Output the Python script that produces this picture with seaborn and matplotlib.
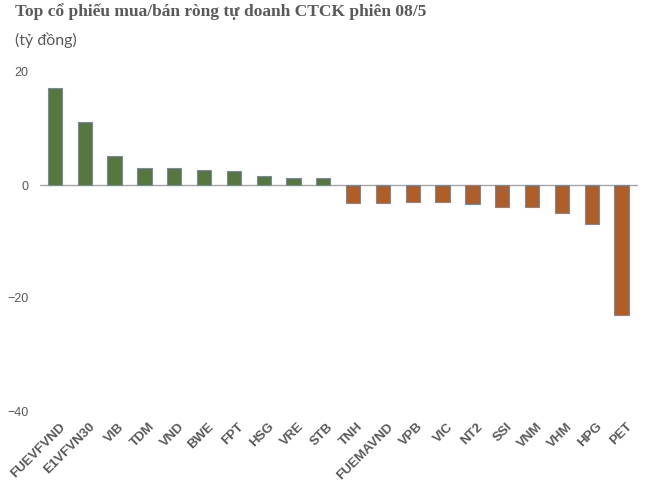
import matplotlib
matplotlib.use("Agg")
import matplotlib.pyplot as plt
import matplotlib.transforms as mtransforms
import seaborn as sns
import pandas as pd

# Top co phieu mua/ban rong tu doanh CTCK phien 08/5 (ty dong)
ma_ck = ["FUEVFVND", "E1VFVN30", "VIB", "TDM", "VND", "BWE", "FPT", "HSG", "VRE", "STB",
         "TNH", "FUEMAVND", "VPB", "VIC", "NT2", "SSI", "VNM", "VHM", "HPG", "PET"]
gia_tri = [17.2, 11.2, 5.1, 3.0, 3.0, 2.7, 2.5, 1.6, 1.2, 1.2,
           -3.1, -3.1, -3.0, -3.0, -3.4, -3.9, -3.9, -5.0, -6.9, -23.0]

df = pd.DataFrame({"ma": ma_ck, "gt": gia_tri})
df["loai"] = ["mua" if v > 0 else "ban" for v in df["gt"]]

sns.set_style("white")
fig = plt.figure(figsize=(6.45, 4.87), dpi=100)
ax = fig.add_axes([40 / 645, 1 - 411 / 487, 598 / 645, 339 / 487])

sns.barplot(data=df, x="ma", y="gt", hue="loai", order=ma_ck,
            palette={"mua": "#548235", "ban": "#C55A11"}, dodge=False,
            width=0.48, edgecolor="#7a8a9a", linewidth=0.8, legend=False, ax=ax)

ax.set_ylim(-40, 20)
ax.set_xlim(-0.5, 19.55)
ax.set_yticks([20, 0, -20, -40])
ax.axhline(0, color="#a6a6a6", lw=1, zorder=0)
for s in ax.spines.values():
    s.set_visible(False)
ax.set_xlabel("")
ax.set_ylabel("")
ax.tick_params(axis="y", length=0, labelsize=9, labelcolor="#595959", pad=8.5)
ax.tick_params(axis="x", length=0, pad=7)
ax.set_xticks(range(len(ma_ck)))
ax.set_xticklabels(ma_ck, rotation=45, ha="right", rotation_mode="anchor",
                   fontsize=9.5, fontweight="bold", color="#595959",
                   family="Liberation Sans")
dich = mtransforms.ScaledTranslation(4 / 100, 0, fig.dpi_scale_trans)
for t in ax.get_xticklabels():
    t.set_transform(t.get_transform() + dich)
for t in ax.get_yticklabels():
    t.set_family("Liberation Sans")

fig.text(15 / 645, 1 - 12 / 487, "Top cổ phiếu mua/bán ròng tự doanh CTCK phiên 08/5",
         family="Liberation Serif", fontweight="bold", fontsize=12.5, color="#595959",
         va="center")
fig.text(15 / 645, 1 - 40 / 487, "(tỷ đồng)", family="Lato", fontsize=11.5,
         color="#595959", va="center")

fig.savefig("out.png", dpi=100)
